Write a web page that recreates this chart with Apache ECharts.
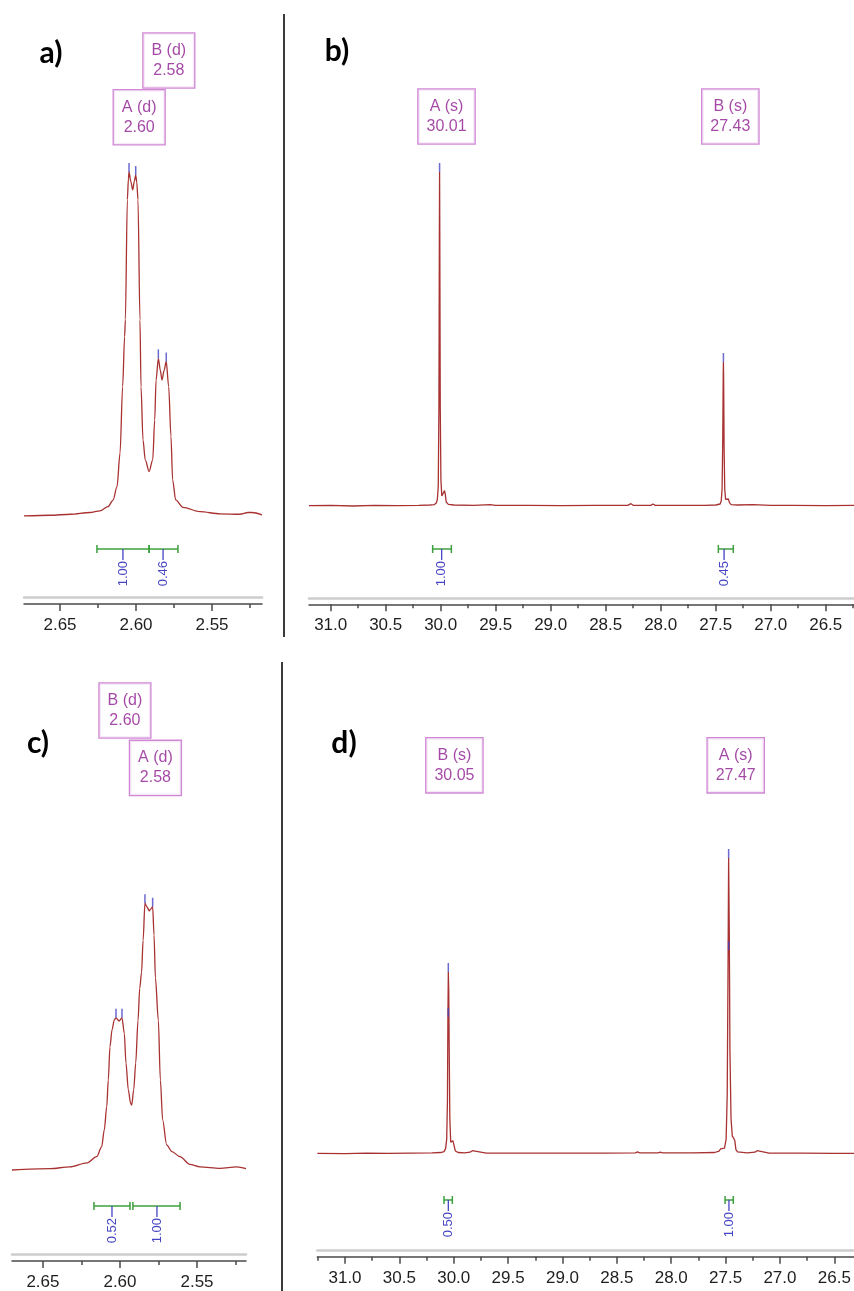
<!DOCTYPE html>
<html><head><meta charset="utf-8">
<script src="https://cdn.jsdelivr.net/npm/echarts@6/dist/echarts.min.js"></script>
<style>html,body{margin:0;padding:0;background:#fff}#c{width:854px;height:1291px}</style>
</head><body><div id="c"></div>
<script>
// ---------- DATA (ppm, relative intensity) ----------
const specA = [[2.6737,0.0],[2.6566,0.2],[2.6430,0.5],[2.6303,1.0],[2.6237,1.5],[2.6184,2.7],[2.6151,4.6],[2.6125,8.5],[2.6105,18.3],[2.6088,37.6],[2.6075,52.1],[2.6070,57],[2.6057,91.9],[2.6050,98],[2.6046,100],[2.6034,97.2],[2.6022,94.8],[2.6011,97.3],[2.6002,99.1],[2.5995,97],[2.5987,91.9],[2.5974,57],[2.5967,37.5],[2.5954,22.1],[2.5939,16.3],[2.5914,12.9],[2.5890,16.3],[2.5877,27.9],[2.5868,39.5],[2.5853,45.8],[2.5840,42.3],[2.5829,39.5],[2.5815,42.3],[2.5801,44.9],[2.5785,37.6],[2.5770,23.1],[2.5759,10.5],[2.5739,4.65],[2.5691,2.5],[2.5579,1.25],[2.5447,0.6],[2.5316,0.5],[2.5263,1.0],[2.5237,1.0],[2.5171,0.3]];
const peaksA = [[2.6046,100],[2.6002,99.1],[2.5853,45.8],[2.5801,44.9]];
const namesA = ['B (d)','A (d)'];
const shiftsA = ['2.58','2.60'];
const integralsA = [[2.6257,2.5914,2.6086],[2.5914,2.5724,2.5822]];
const integralValsA = ['1.00','0.46'];
const majorTicksA = [2.65,2.60,2.55];
const minorTicksA = [2.625,2.575,2.525];

const specB = [[31.197,0.1],[31.0,0.2],[30.8,0.0],[30.6,0.2],[30.4,0.1],[30.2,0.2],[30.1,0.3],[30.06,0.4],[30.04,0.9],[30.03,2.0],[30.022,6],[30.016,30],[30.012,80],[30.01,100],[30.008,80],[30.004,30],[29.998,8],[29.99,3.0],[29.975,3.2],[29.965,4.6],[29.958,3.5],[29.95,1.2],[29.93,0.5],[29.88,0.3],[29.7,0.2],[29.55,0.4],[29.5,0.2],[29.2,0.2],[28.9,0.1],[28.6,0.2],[28.3,0.2],[28.27,0.7],[28.25,0.2],[28.09,0.2],[28.07,0.6],[28.05,0.2],[27.8,0.2],[27.6,0.2],[27.5,0.3],[27.46,0.6],[27.45,1.5],[27.442,5],[27.436,20],[27.432,38],[27.43,43.1],[27.428,38],[27.424,18],[27.418,5],[27.41,2],[27.395,1.8],[27.385,2.1],[27.375,1.0],[27.36,0.4],[27.3,0.3],[27.16,0.4],[27.0,0.2],[26.8,0.2],[26.5,0.1],[26.243,0.2]];
const peaksB = [[30.01,100],[27.43,43.1]];
const namesB = ['A (s)','B (s)'];
const shiftsB = ['30.01','27.43'];
const integralsB = [[30.073,29.903,29.991],[27.476,27.34,27.424]];
const integralValsB = ['1.00','0.45'];
const majorTicksB = [31.0,30.5,30.0,29.5,29.0,28.5,28.0,27.5,27.0,26.5];
const minorTicksB = [30.75,30.25,29.75,29.25,28.75,28.25,27.75,27.25,26.75,26.25];

const specC = [[2.6701,0],[2.6454,0.5],[2.6325,1.2],[2.6214,2.7],[2.6151,5],[2.6119,8.7],[2.6102,15],[2.6086,23.7],[2.6076,33.7],[2.6065,46.2],[2.6052,52.4],[2.6037,56.2],[2.6026,57],[2.6006,55.8],[2.5987,57],[2.5972,51.2],[2.5961,40],[2.5946,30],[2.5931,25],[2.5924,24.3],[2.5911,30],[2.5898,40],[2.5883,56],[2.5872,68],[2.5860,74],[2.5850,86],[2.5838,99.9],[2.5825,98.5],[2.5810,97.1],[2.5799,97.8],[2.5788,98.6],[2.5779,88],[2.5770,72],[2.5751,56],[2.5738,33.7],[2.5723,18.7],[2.5697,9.4],[2.5663,6.9],[2.5611,5],[2.5546,2.1],[2.5481,1.2],[2.5351,0.6],[2.5243,1.2],[2.5182,0.5]];
const peaksC = [[2.6026,57],[2.5987,57],[2.5838,99.9],[2.5788,98.6]];
const namesC = ['B (d)','A (d)'];
const shiftsC = ['2.60','2.58'];
const integralsC = [[2.6169,2.5935,2.6052],[2.5916,2.5610,2.5760]];
const integralValsC = ['0.52','1.00'];
const majorTicksC = [2.65,2.60,2.55];
const minorTicksC = [2.625,2.575,2.525];

const specD = [[31.255,0.2],[31.0,0.1],[30.8,0.3],[30.6,0.2],[30.4,0.3],[30.2,0.4],[30.12,0.5],[30.09,0.8],[30.075,1.8],[30.065,5],[30.058,18],[30.054,45],[30.05,61.5],[30.046,55],[30.042,36],[30.036,12],[30.028,4],[30.018,3.5],[30.008,4.5],[29.998,3.0],[29.985,1.0],[29.96,0.5],[29.9,0.4],[29.85,0.6],[29.83,1.1],[29.815,0.5],[29.7,0.3],[29.4,0.3],[29.0,0.3],[28.6,0.3],[28.33,0.4],[28.31,0.7],[28.29,0.4],[28.12,0.4],[28.1,0.6],[28.08,0.4],[27.8,0.4],[27.6,0.5],[27.56,1.0],[27.546,1.7],[27.532,1.2],[27.51,2.0],[27.495,5],[27.485,20],[27.478,60],[27.472,100],[27.466,75],[27.46,35],[27.45,12],[27.438,6],[27.425,5.3],[27.415,4.5],[27.405,1.5],[27.39,0.7],[27.3,0.4],[27.23,0.6],[27.21,1.1],[27.195,0.5],[27.1,0.3],[26.8,0.3],[26.5,0.2],[26.319,0.2]];
const peaksD = [[30.05,61.5],[30.05,46.3],[27.472,100],[27.472,68.9]];
const namesD = ['B (s)','A (s)'];
const shiftsD = ['30.05','27.47'];
const integralsD = [[30.090,30.013,30.050],[27.505,27.429,27.469]];
const integralValsD = ['0.50','1.00'];
const majorTicksD = [31.0,30.5,30.0,29.5,29.0,28.5,28.0,27.5,27.0,26.5];
const minorTicksD = [31.25,30.75,30.25,29.75,29.25,28.75,28.25,27.75,27.25,26.75];

// ---------- LAYOUT ----------
const panels = [
  {letter:'a)', lx:51, ly:53, spec:specA, peaks:peaksA, names:namesA, shifts:shiftsA, ints:integralsA, intVals:integralValsA, majors:majorTicksA, minors:minorTicksA, dec:2,
   grid:{left:24, right:592, top:0, bottom:687}, xMin:2.5171, xMax:2.6737, yMin:-25.6, yMax:150, smooth:0.3,
   anchors:[[2.5784,132.4],[2.5979,115.9]], intLevel:-9.62},
  {letter:'b)', lx:337, ly:51, spec:specB, peaks:peaksB, names:namesB, shifts:shiftsB, ints:integralsB, intVals:integralValsB, majors:majorTicksB, minors:minorTicksB, dec:1,
   grid:{left:309, right:0, top:0, bottom:686.7}, xMin:26.243, xMax:31.197, yMin:-29.43, yMax:151.5, smooth:false,
   anchors:[[29.947,116.6],[27.367,116.6]], intLevel:-12.87},
  {letter:'c)', lx:38, ly:743, spec:specC, peaks:peaksC, names:namesC, shifts:shiftsC, ints:integralsC, intVals:integralValsC, majors:majorTicksC, minors:minorTicksC, dec:2,
   grid:{left:12, right:608, top:660, bottom:30}, xMin:2.5182, xMax:2.6701, yMin:-34.08, yMax:191.01, smooth:0.3,
   anchors:[[2.5968,172.1],[2.5770,150.6]], intLevel:-13.48},
  {letter:'d)', lx:344, ly:743, spec:specD, peaks:peaksD, names:namesD, shifts:shiftsD, ints:integralsD, intVals:integralValsD, majors:majorTicksD, minors:minorTicksD, dec:1,
   grid:{left:317.3, right:0, top:660, bottom:34.3}, xMin:26.319, xMax:31.255, yMin:-34.7, yMax:166.89, smooth:false,
   anchors:[[29.994,131.3],[27.407,131.3]], intLevel:-15.54}
];

const RED = '#a83232', BLUE = '#4545c4', GREEN = '#3da03d', PURPLE = '#8e1b90', PBORDER = '#c46acb';
const AXC = '#4a4a4a';
const FONT = 'Liberation Sans';

const option = {animation:false, grid:[], xAxis:[], yAxis:[], series:[], graphic:[]};

panels.forEach((p, i) => {
  option.grid.push(Object.assign({outerBoundsMode:'none', containLabel:false}, p.grid));
  const base = {type:'value', gridIndex:i, min:p.xMin, max:p.xMax, inverse:true, position:'bottom', splitLine:{show:false}};
  const xi = option.xAxis.length;
  option.xAxis.push(Object.assign({}, base, {
    axisLine:{onZero:false, lineStyle:{color:AXC, width:1.5}},
    axisTick:{customValues:p.majors, length:7, lineStyle:{color:AXC, width:1.5}},
    axisLabel:{customValues:p.majors, formatter:v => Number(v).toFixed(p.dec), fontSize:17, color:'#1e1e1e', margin:13, fontFamily:FONT}
  }));
  option.xAxis.push(Object.assign({}, base, {
    axisLine:{show:false, onZero:false},
    axisTick:{customValues:p.minors, length:4, lineStyle:{color:AXC, width:1.5}},
    axisLabel:{show:false}
  }));
  option.xAxis.push(Object.assign({}, base, {
    offset:-6.5,
    axisLine:{onZero:false, lineStyle:{color:'#cdcdcd', width:2.5}},
    axisTick:{show:false}, axisLabel:{show:false}
  }));
  option.yAxis.push({type:'value', gridIndex:i, min:p.yMin, max:p.yMax, show:false});

  option.series.push({
    type:'line', xAxisIndex:xi, yAxisIndex:i, data:p.spec, symbol:'none', showSymbol:false,
    smooth:p.smooth, smoothMonotone:'x', silent:true, clip:true,
    lineStyle:{color:RED, width:1.3}, z:2
  });
  option.series.push({
    type:'scatter', xAxisIndex:xi, yAxisIndex:i, data:p.peaks, symbol:'rect',
    symbolSize:[1.5, 9], symbolOffset:[0, -4.5], itemStyle:{color:BLUE}, silent:true, z:3
  });
  option.series.push({
    type:'scatter', xAxisIndex:xi, yAxisIndex:i, data:p.anchors, symbolSize:1,
    itemStyle:{color:'rgba(0,0,0,0)'}, silent:true, z:4,
    label:{show:true, position:'inside', formatter:prm => p.names[prm.dataIndex] + '\n' + p.shifts[prm.dataIndex],
      color:PURPLE, fontSize:16, fontFamily:FONT, lineHeight:20, align:'center',
      backgroundColor:'#fff', borderColor:PBORDER, borderWidth:1.3, padding:[7,8,7,8]}
  });
  const level = p.intLevel;
  option.series.push({
    type:'custom', xAxisIndex:xi, yAxisIndex:i, data:p.ints, silent:true, z:3,
    encode:{x:[0,1,2]},
    renderItem:(params, api) => {
      const a = api.coord([api.value(0), level]);
      const b = api.coord([api.value(1), level]);
      const c = api.coord([api.value(2), level]);
      const y = a[1];
      return {type:'group', children:[
        {type:'line', shape:{x1:a[0], y1:y, x2:b[0], y2:y}, style:{stroke:GREEN, lineWidth:1.5}},
        {type:'line', shape:{x1:a[0], y1:y-4, x2:a[0], y2:y+4}, style:{stroke:GREEN, lineWidth:1.5}},
        {type:'line', shape:{x1:b[0], y1:y-4, x2:b[0], y2:y+4}, style:{stroke:GREEN, lineWidth:1.5}},
        {type:'line', shape:{x1:c[0], y1:y, x2:c[0], y2:y+11}, style:{stroke:BLUE, lineWidth:1.3}},
        {type:'text', x:c[0], y:y+12, rotation:Math.PI/2,
          style:{text:p.intVals[params.dataIndex], fill:BLUE, font:'13px "' + FONT + '"', align:'right', verticalAlign:'middle'}}
      ]};
    }
  });
  option.graphic.push({type:'text', x:p.lx, y:p.ly, silent:true,
    style:{text:p.letter, fill:'#000', font:'bold 30px Lato', align:'center', verticalAlign:'middle'}});
});

option.graphic.push({type:'line', silent:true, shape:{x1:284, y1:14, x2:284, y2:637}, style:{stroke:'#3a3a3a', lineWidth:2}});
option.graphic.push({type:'line', silent:true, shape:{x1:282, y1:662, x2:282, y2:1291}, style:{stroke:'#3a3a3a', lineWidth:2}});

const chart = echarts.init(document.getElementById('c'), null, {renderer:'canvas'});
chart.setOption(option);
</script></body></html>
